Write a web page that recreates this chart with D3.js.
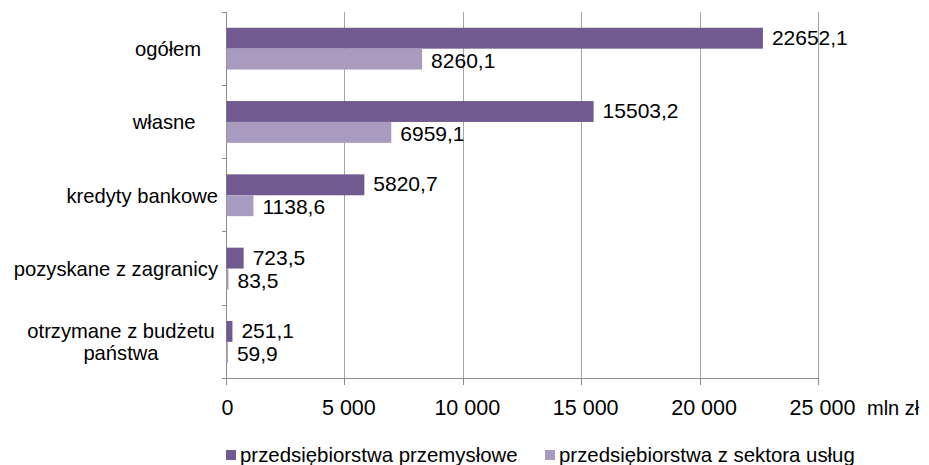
<!DOCTYPE html>
<html>
<head>
<meta charset="utf-8">
<script src="https://cdn.jsdelivr.net/npm/d3@7"></script>
<style>
  html, body { margin: 0; padding: 0; background: #fff; }
  svg { display: block; font-family: "Liberation Sans", Arial, sans-serif; }
  text { white-space: pre; }
</style>
</head>
<body>
<svg id="chart" width="929" height="465"></svg>
<script>
const categories = [
  ["ogółem   "],
  ["własne    "],
  ["kredyty bankowe"],
  ["pozyskane z zagranicy"],
  ["otrzymane z budżetu", "państwa"]
];
const seriesNames = ["przedsiębiorstwa przemysłowe", "przedsiębiorstwa z sektora usług"];
const industrial = [22652.1, 15503.2, 5820.7, 723.5, 251.1];
const services = [8260.1, 6959.1, 1138.6, 83.5, 59.9];
const xTicks = [0, 5000, 10000, 15000, 20000, 25000];
const unitLabel = "mln zł";
const colors = ["#705a8f", "#a99bc0"];

const svg = d3.select("#chart");
const mLeft = 226.5, mRight = 818.5, mTop = 12, mBottom = 378.5;

const x = d3.scaleLinear().domain([0, 25000]).range([mLeft, mRight]);
const catKeys = categories.map((c, i) => i);
const y = d3.scaleBand().domain(catKeys).range([mTop, mBottom]).paddingInner(0.43).paddingOuter(0.215);
const ySub = d3.scaleBand().domain([0, 1]).range([0, y.bandwidth()]);

const fmt = v => v.toFixed(1).replace(".", ",");
const tickFmt = v => v === 0 ? "0" : d3.format(",")(v).replace(",", " ");

// gridlines
svg.append("g").selectAll("line").data(xTicks.slice(1)).join("line")
  .attr("x1", d => x(d)).attr("x2", d => x(d))
  .attr("y1", mTop).attr("y2", mBottom)
  .attr("stroke", "#a6a6a6").attr("stroke-width", 1).attr("shape-rendering", "crispEdges");

// x axis line + ticks
svg.append("line").attr("x1", mLeft).attr("x2", mRight).attr("y1", mBottom).attr("y2", mBottom)
  .attr("stroke", "#8c8c8c").attr("shape-rendering", "crispEdges");
svg.append("g").selectAll("line").data(xTicks).join("line")
  .attr("x1", d => x(d)).attr("x2", d => x(d)).attr("y1", mBottom).attr("y2", mBottom + 6)
  .attr("stroke", "#8c8c8c").attr("shape-rendering", "crispEdges");

// y axis line + ticks
svg.append("line").attr("x1", mLeft).attr("x2", mLeft).attr("y1", mTop).attr("y2", mBottom)
  .attr("stroke", "#8c8c8c").attr("shape-rendering", "crispEdges");
const boundaries = d3.range(categories.length + 1).map(i => mTop + i * (mBottom - mTop) / categories.length);
svg.append("g").selectAll("line").data(boundaries).join("line")
  .attr("x1", mLeft - 5).attr("x2", mLeft).attr("y1", d => d).attr("y2", d => d)
  .attr("stroke", "#8c8c8c").attr("shape-rendering", "crispEdges");

// x tick labels
svg.append("g").selectAll("text").data(xTicks).join("text")
  .attr("x", d => x(d)).attr("dx", d => d ? 4 : 1).attr("y", 415)
  .attr("text-anchor", "middle").attr("font-size", 21.5).attr("fill", "#000")
  .text(tickFmt);
svg.append("text").attr("x", 867).attr("y", 415).attr("font-size", 20).attr("fill", "#000").text(unitLabel);

// bars
const series = [industrial, services];
series.forEach((vals, s) => {
  const g = svg.append("g");
  g.selectAll("rect").data(vals).join("rect")
    .attr("x", x(0))
    .attr("y", (d, i) => y(i) + ySub(s))
    .attr("width", d => x(d) - x(0))
    .attr("height", ySub.bandwidth())
    .attr("fill", colors[s]);
  g.selectAll("text").data(vals).join("text")
    .attr("x", d => x(d) + 9)
    .attr("y", (d, i) => y(i) + ySub(s) + ySub.bandwidth() / 2 + (s ? 1 : -1))
    .attr("dy", "0.36em")
    .attr("font-size", 21).attr("fill", "#000")
    .text(fmt);
});

// category labels
categories.forEach((lines, i) => {
  const cy = y(i) + y.bandwidth() / 2;
  const lh = 22;
  if (lines.length === 1) {
    svg.append("text").attr("x", 218).attr("y", cy).attr("dy", "0.36em")
      .attr("text-anchor", "end").attr("font-size", 20.2).attr("fill", "#000").text(lines[0]);
  } else {
    const t = svg.append("text").attr("font-size", 20.2).attr("fill", "#000").attr("text-anchor", "middle");
    lines.forEach((ln, k) => {
      t.append("tspan").attr("x", 121).attr("y", cy + (k - (lines.length - 1) / 2) * lh).attr("dy", "0.36em").text(ln);
    });
  }
});

// legend
const legendX = [226, 545];
seriesNames.forEach((name, s) => {
  svg.append("rect").attr("x", legendX[s]).attr("y", 450).attr("width", 10).attr("height", 10).attr("fill", colors[s]);
  svg.append("text").attr("x", legendX[s] + 14).attr("y", 455).attr("dy", "0.36em")
    .attr("font-size", 20.4).attr("fill", "#000").text(name);
});
</script>
</body>
</html>
